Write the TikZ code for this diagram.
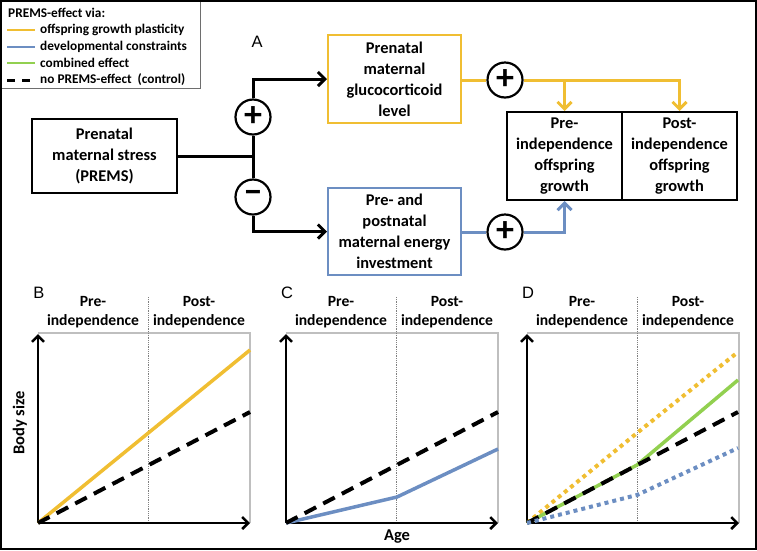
\documentclass[tikz,border=0pt]{standalone}
\usepackage{fontspec}
\setmainfont{Carlito}
\newfontfamily\lettfont{Liberation Sans}
\usetikzlibrary{arrows.meta,positioning}

\definecolor{plastyellow}{RGB}{240,190,50}
\definecolor{constrblue}{RGB}{108,142,194}
\definecolor{combgreen}{RGB}{146,208,80}
\definecolor{framegray}{RGB}{191,191,191}
\definecolor{leggray}{RGB}{110,110,110}

\newcommand\boxfont{\fontsize{16.4}{21}\selectfont\bfseries}
\newcommand\hdrfont{\fontsize{15.6}{19.5}\selectfont\bfseries}
\newcommand\axlabfont{\fontsize{16.5}{19.5}\selectfont\bfseries}
\newcommand\legfont{\fontsize{13.3}{16}\selectfont\bfseries}
\newcommand\signfont{\fontsize{36}{36}\selectfont\bfseries}

\begin{document}
\begin{tikzpicture}[
    x=1pt, y=-1pt,
    box/.style={draw, line width=2pt, align=center, font=\boxfont,
      inner sep=0pt, minimum width=133pt, minimum height=88pt},
    growbox/.style={box, minimum width=115pt},
    sign/.style={circle, draw, line width=2.2pt, fill=white,
      minimum size=35pt, inner sep=0pt, font=\signfont},
    link/.style={line width=3pt},
    arr/.style={link, -{Straight Barb[length=7pt, width=14pt]}},
    hdr/.style={align=center, font=\hdrfont, inner sep=0pt},
    axlab/.style={font=\axlabfont, inner sep=0pt},
    lett/.style={font=\lettfont\fontsize{16.5}{18}\selectfont, inner sep=0pt},
    legtext/.style={anchor=west, font=\legfont, inner sep=0pt},
    axis/.style={line width=2.5pt, -{Straight Barb[length=6pt, width=12pt]}},
    plast/.style={plastyellow, line width=3.5pt},
    constr/.style={constrblue, line width=3.5pt},
    comb/.style={combgreen, line width=3.5pt},
    ctrl/.style={black, line width=4pt, dash pattern=on 13pt off 8pt},
    dotty/.style={line width=4pt, dash pattern=on 4pt off 4pt}
]
\useasboundingbox (0,0) rectangle (757,550);

% Legend
\draw[leggray, line width=1pt] (1,1) rectangle (200,88);
\node[legtext] (legtitle) at (8,13) {PREMS-effect via:};
\foreach \y/\col/\txt in {30/plastyellow/offspring growth plasticity,
    47/constrblue/developmental constraints, 63/combgreen/combined effect} {
  \draw[\col, line width=2.5pt] (7,\y) -- (35,\y);
  \node[legtext] (leg\y) at (40,\y) {\txt};
}
\draw[line width=3pt, dash pattern=on 8pt off 7pt] (7,80) -- (30,80);
\node[legtext] (leg80) at (40,80) {no PREMS-effect~~(control)};

% Panel A: pathways
\node[lett] (lettA) at (257,42) {A};
\node[box, minimum width=145pt, minimum height=74pt] (stress) at (104.5,156)
  {Prenatal\\maternal stress\\(PREMS)};
\node[box, draw=plastyellow] (gluco) at (394.5,79)
  {Prenatal\\maternal\\glucocorticoid\\level};
\node[box, draw=constrblue, minimum height=87pt] (energy) at (394.5,231.5)
  {Pre- and\\postnatal\\maternal energy\\investment};
\node[growbox] (pre) at (564.5,156) {Pre-\\independence\\offspring\\growth};
\node[growbox] (post) at (679.5,156) {Post-\\independence\\offspring\\growth};

\coordinate (junc) at (253,156);
\node[sign] (plusA) at (253,117) {+};
\node[sign] (minusA) at (253,197) {−};
\node[sign] (plusG) at (505,80) {+};
\node[sign] (plusE) at (505,232) {+};

\draw[link] (stress.east) -- (junc);
\draw[link] (junc) -- (plusA.south);
\draw[link] (junc) -- (minusA.north);
\draw[arr] (plusA.north) |- (gluco.west);
\draw[arr] (minusA.south) |- (energy.west);

% yellow route
\draw[link, plastyellow] (gluco.east |- plusG) -- (plusG.west);
\draw[arr, plastyellow] (plusG.east) -| (post.north);
\coordinate (split) at (pre.north |- plusG);
\draw[arr, plastyellow] (split) -- (pre.north);

% blue route
\draw[link, constrblue] (energy.east |- plusE) -- (plusE.west);
\draw[arr, constrblue] (plusE.east) -| (pre.south);

% Panels B-D: frames, axes, headers
\foreach \px/\lbl in {38/B, 286/C, 527/D} {
  \draw[framegray, line width=1.3pt] (\px,333) -- (\px+212,333) -- (\px+212,523);
  \draw[gray, densely dotted, line width=0.8pt] (\px+110,297) -- (\px+110,523);
  \node[hdr] (pre\lbl) at (\px+55,312) {Pre-\\independence};
  \node[hdr] (post\lbl) at (\px+161,312) {Post-\\independence};
  \node[lett] (lett\lbl) at (\px+1,293) {\lbl};
  \draw[axis] (\px,523) -- (\px,334);
  \draw[axis] (\px,523) -- (\px+212,523);
}
\node[axlab, rotate=90] (bodysize) at (20,423) {Body size};
\node[axlab] (age) at (397,537) {Age};

% B: plasticity only
\draw[plast] (38,523) -- (250,350);
\draw[ctrl] (38,523) -- (250,412);

% C: constraints only
\draw[constr] (286,523) -- (397,497) -- (498,449);
\draw[ctrl] (286,523) -- (498,412);

% D: combined
\draw[plastyellow, dotty] (527,523) -- (637,433) -- (738,352);
\draw[comb] (527,523) -- (637,465) -- (738,380);
\draw[ctrl] (527,523) -- (738,412);
\draw[constrblue, dotty] (527,523) -- (637,495) -- (738,448);

% outer frame
\draw[line width=1.5pt] (1,1) rectangle (756,549);
\end{tikzpicture}
\end{document}
